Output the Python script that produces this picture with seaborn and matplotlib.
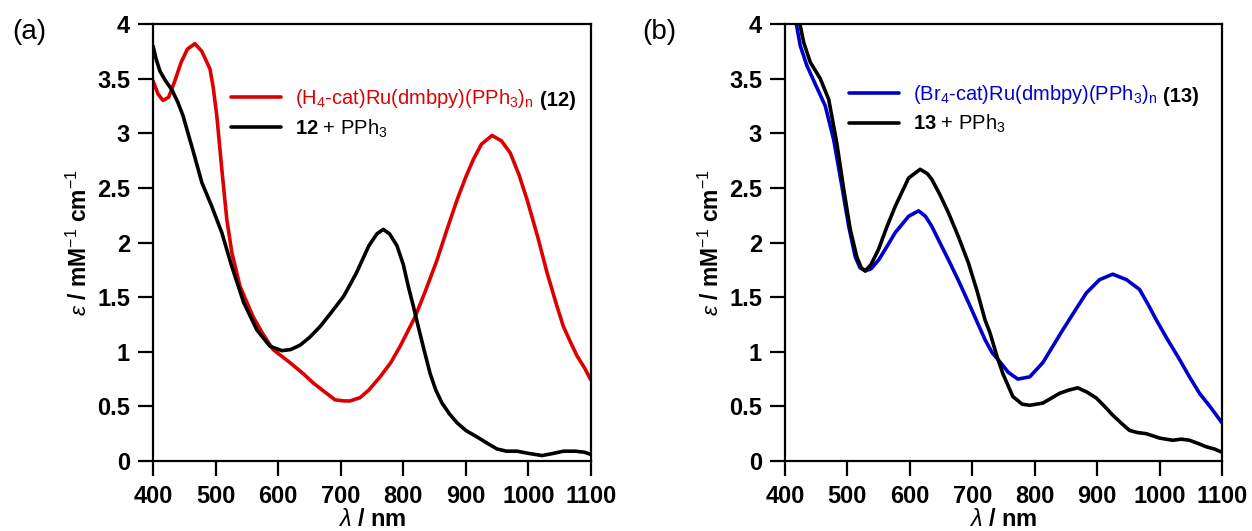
import numpy as np
import pandas as pd
import matplotlib
matplotlib.use("Agg")
import matplotlib.pyplot as plt
import seaborn as sns

# ---------------- data ----------------
wl_12 = [400, 408, 416, 425, 435, 445, 455, 467, 478, 491, 496, 502, 510, 518, 526, 539,
         560, 575, 592, 619, 640, 657, 675, 691, 705, 715, 731, 745, 763, 780, 795, 819,
         835, 854, 870, 886, 900, 912, 925, 942, 957, 971, 985, 998, 1015, 1030, 1045,
         1056, 1068, 1078, 1090, 1100]
eps_12 = [3.48, 3.36, 3.30, 3.33, 3.48, 3.65, 3.77, 3.82, 3.75, 3.59, 3.43, 3.16, 2.67, 2.21,
          1.91, 1.60, 1.32, 1.17, 1.02, 0.90, 0.80, 0.71, 0.63, 0.56, 0.55, 0.55, 0.58, 0.65,
          0.77, 0.90, 1.05, 1.32, 1.55, 1.84, 2.12, 2.39, 2.60, 2.76, 2.90, 2.98, 2.93, 2.82,
          2.62, 2.39, 2.05, 1.72, 1.43, 1.23, 1.08, 0.96, 0.85, 0.74]

wl_12p = [400, 405, 411, 420, 430, 440, 448, 456, 465, 478, 494, 510, 526, 545, 566, 587, 606,
          620, 635, 650, 667, 685, 705, 725, 745, 758, 768, 778, 790, 800, 808, 816, 824,
          834, 843, 852, 862, 874, 886, 900, 918, 935, 950, 965, 982, 1000, 1022, 1040,
          1056, 1075, 1090, 1100]
eps_12p = [3.80, 3.68, 3.57, 3.48, 3.40, 3.28, 3.16, 3.00, 2.82, 2.55, 2.33, 2.09, 1.78, 1.45,
           1.20, 1.05, 1.01, 1.02, 1.06, 1.13, 1.23, 1.36, 1.51, 1.72, 1.97, 2.08, 2.12, 2.08,
           1.97, 1.80, 1.60, 1.42, 1.23, 1.00, 0.80, 0.65, 0.53, 0.43, 0.35, 0.28, 0.22, 0.16,
           0.11, 0.09, 0.09, 0.07, 0.05, 0.07, 0.09, 0.09, 0.08, 0.06]

wl_13 = [400, 410, 416.5, 424.5, 435, 448.5, 464.5, 478, 491, 502, 512.5, 520, 528.5, 538,
         550, 563, 576.5, 598, 614, 625, 635, 648, 662, 678, 694, 708, 720.5, 732, 744, 758,
         773, 792, 813, 828, 845, 865, 883, 904, 925, 947, 968, 982, 995, 1012, 1032, 1048,
         1064, 1082, 1100]
eps_13 = [4.45, 4.25, 4.05, 3.80, 3.62, 3.45, 3.25, 2.94, 2.52, 2.15, 1.87, 1.77, 1.74, 1.76,
          1.84, 1.96, 2.09, 2.24, 2.29, 2.24, 2.15, 2.00, 1.84, 1.65, 1.45, 1.27, 1.11, 0.99,
          0.91, 0.81, 0.75, 0.77, 0.90, 1.04, 1.20, 1.38, 1.54, 1.66, 1.71, 1.66, 1.57, 1.43,
          1.29, 1.12, 0.93, 0.77, 0.62, 0.49, 0.35]

wl_13p = [400, 412, 422, 430, 440.5, 456.5, 470, 483, 494, 504.5, 515, 522, 528.5, 538, 550,
          563, 576.5, 598, 616.5, 628, 635, 648, 662, 678, 694, 708, 720.5, 728, 740, 749,
          765, 780, 792, 813, 840, 855, 869, 884, 899, 912, 925, 940, 952, 965, 979, 1000,
          1021, 1035, 1048, 1062, 1075, 1088, 1100]
eps_13p = [4.60, 4.30, 4.05, 3.83, 3.65, 3.50, 3.31, 2.91, 2.49, 2.12, 1.87, 1.77, 1.74, 1.80,
           1.94, 2.14, 2.33, 2.59, 2.67, 2.63, 2.58, 2.44, 2.27, 2.05, 1.81, 1.55, 1.29, 1.18,
           0.95, 0.80, 0.59, 0.52, 0.51, 0.53, 0.62, 0.65, 0.67, 0.63, 0.575, 0.50, 0.42, 0.34,
           0.28, 0.26, 0.25, 0.21, 0.19, 0.20, 0.19, 0.16, 0.13, 0.11, 0.08]

x_ticks = [400, 500, 600, 700, 800, 900, 1000, 1100]
x_ticklabels = ["400", "500", "600", "700", "800", "900", "1000", "1100"]
y_ticks = [0, 0.5, 1, 1.5, 2, 2.5, 3, 3.5, 4]
y_ticklabels = ["0", "0.5", "1", "1.5", "2", "2.5", "3", "3.5", "4"]

label_12 = r"(H$_{\mathrm{4}}$-cat)Ru(dmbpy)(PPh$_{\mathrm{3}}$)$_{\mathrm{n}}$"
label_12p = r"$\mathbf{12}$ + PPh$_{\mathrm{3}}$"
label_13 = r"(Br$_{\mathrm{4}}$-cat)Ru(dmbpy)(PPh$_{\mathrm{3}}$)$_{\mathrm{n}}$"
label_13p = r"$\mathbf{13}$ + PPh$_{\mathrm{3}}$"

RED = "#DD0000"
BLUE = "#0000CC"
BLACK = "#000000"

# ---------------- style ----------------
sns.set_theme(style="ticks")
plt.rcParams["font.family"] = ["Liberation Sans", "DejaVu Sans"]
plt.rcParams["mathtext.fontset"] = "custom"
plt.rcParams["mathtext.rm"] = "Liberation Sans"
plt.rcParams["mathtext.it"] = "Liberation Sans:italic"
plt.rcParams["mathtext.bf"] = "Liberation Sans:bold"
for k in ["text.color", "axes.labelcolor", "xtick.color", "ytick.color", "axes.edgecolor",
          "xtick.labelcolor", "ytick.labelcolor"]:
    plt.rcParams[k] = "black"

fig = plt.figure(figsize=(12.52, 5.31), dpi=100)
ax_a = fig.add_axes([0.1222, 0.1318, 0.3498, 0.8230])
ax_b = fig.add_axes([0.6270, 0.1318, 0.3490, 0.8230])

LEGFS = 14.5


def panel(ax, wl1, e1, lab1, c1, wl2, e2, lab2, cmpd, leg_anchor):
    d1 = pd.DataFrame({"wl": wl1, "eps": e1})
    d2 = pd.DataFrame({"wl": wl2, "eps": e2})
    sns.lineplot(data=d1, x="wl", y="eps", ax=ax, color=c1, lw=2.6, sort=False,
                 estimator=None, label=lab1)
    sns.lineplot(data=d2, x="wl", y="eps", ax=ax, color=BLACK, lw=2.6, sort=False,
                 estimator=None, label=lab2)
    ax.set_xlim(400, 1100)
    ax.set_ylim(0, 4)
    ax.set_xticks(x_ticks)
    ax.set_xticklabels(x_ticklabels)
    ax.set_yticks(y_ticks)
    ax.set_yticklabels(y_ticklabels)
    for s in ax.spines.values():
        s.set_linewidth(1.6)
        s.set_visible(True)
        s.set_color("black")
    ax.tick_params(direction="out", length=11, width=1.6, labelsize=17, colors="black")
    ax.tick_params(axis="x", pad=6.5)
    ax.tick_params(axis="y", pad=5.5)
    for t in ax.get_xticklabels() + ax.get_yticklabels():
        t.set_fontweight("bold")
    ax.set_xlabel(r"$\lambda$ / nm", fontsize=17, fontweight="bold")
    ax.set_ylabel(r"$\varepsilon$ / mM$^{-1}$ cm$^{-1}$", fontsize=16.5, fontweight="bold")
    ax.xaxis.set_label_coords(0.5, -0.108)
    ax.yaxis.set_label_coords(-0.14, 0.5)
    leg = ax.legend(loc="upper left", bbox_to_anchor=leg_anchor, frameon=False,
                    fontsize=LEGFS, handlelength=2.5, handletextpad=0.7,
                    labelspacing=0.35, borderaxespad=0, borderpad=0)
    leg.get_texts()[0].set_color(c1)
    ax.annotate("(" + cmpd + ")", xy=(1, 0), xycoords=leg.get_texts()[0],
                xytext=(4, 0), textcoords="offset points", ha="left", va="bottom",
                fontsize=LEGFS, fontweight="bold", color=BLACK, zorder=10,
                annotation_clip=False)
    return ax


panel(ax_a, wl_12, eps_12, label_12, RED, wl_12p, eps_12p, label_12p, "12", (0.178, 0.855))
panel(ax_b, wl_13, eps_13, label_13, BLUE, wl_13p, eps_13p, label_13p, "13", (0.146, 0.866))

fig.text(0.0096, 0.94, "(a)", fontsize=20, va="center", ha="left")
fig.text(0.5128, 0.94, "(b)", fontsize=20, va="center", ha="left")

fig.canvas.draw()
fig.savefig("out.png", dpi=100)
